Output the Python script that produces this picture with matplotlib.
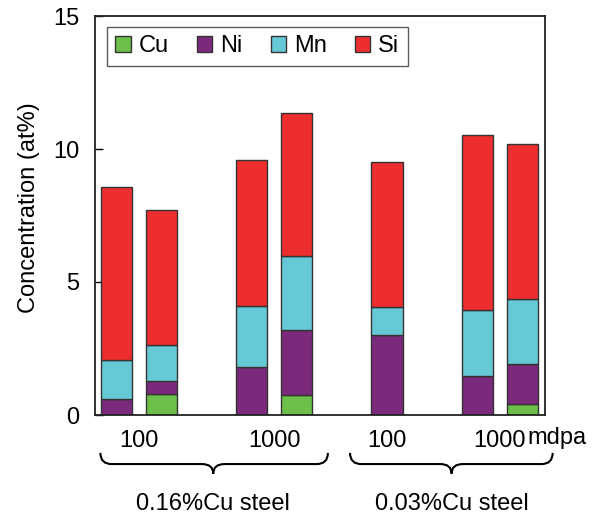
import matplotlib
matplotlib.use("Agg")
import matplotlib.pyplot as plt
from matplotlib.path import Path
from matplotlib.patches import PathPatch, Patch
from matplotlib.transforms import blended_transform_factory
import numpy as np

plt.rcParams['font.family'] = ['Liberation Sans', 'DejaVu Sans']

# --- data (at%), one entry per bar ---
elements = ['Cu', 'Ni', 'Mn', 'Si']
cu = [0.00, 0.80, 0.00, 0.75, 0.00, 0.00, 0.40]
ni = [0.59, 0.49, 1.82, 2.43, 3.00, 1.47, 1.53]
mn = [1.47, 1.34, 2.28, 2.80, 1.05, 2.47, 2.42]
si = [6.52, 5.08, 5.49, 5.36, 5.47, 6.59, 5.83]
dose_labels = ['100', '1000', '100', '1000']
group_labels = ['0.16%Cu steel', '0.03%Cu steel']

colors = ['#6cc04a', '#7b2a7b', '#66cad6', '#ee2e2e']

# layout
slots = np.array([0, 1, 3, 4, 6, 8, 9])
dose_pos = [0.5, 3.5, 6, 8.5]
brace_spans = [(-0.35, 4.69, 2.15), (5.18, 9.67, 7.43)]
fs = 17

fig = plt.figure(figsize=(5.99, 5.15), dpi=100)
ax = fig.add_axes([95 / 599, 100 / 515, 450 / 599, 399 / 515])

bottom = np.zeros(len(slots))
for name, vals, col in zip(elements, [cu, ni, mn, si], colors):
    vals = np.array(vals)
    m = vals > 0
    ax.bar(slots[m], vals[m], width=0.69, bottom=bottom[m], color=col,
           edgecolor='#333333', linewidth=1.0, zorder=2)
    bottom += vals

ax.set_xlim(-0.47, 9.5)
ax.set_ylim(0, 15)
ax.set_yticks([0, 5, 10, 15])
ax.tick_params(axis='y', direction='in', length=6, width=1, pad=11, labelsize=fs)
ax.set_xticks(dose_pos)
ax.set_xticklabels(dose_labels)
ax.tick_params(axis='x', length=0, pad=11, labelsize=fs)
for sp in ax.spines.values():
    sp.set_linewidth(1.3)
    sp.set_color('#222222')

ax.set_ylabel('Concentration (at%)', fontsize=fs)
ax.yaxis.set_label_coords(-0.123, 0.52)

trans = blended_transform_factory(ax.transData, ax.transAxes)
ax.text(9.12, -0.058, 'mdpa', transform=trans, fontsize=fs, ha='left', va='center')

# braces under the groups
y_top, y_mid, y_tip = -0.095, -0.123, -0.147
r = 0.25
for (x0, x1, xm), lab in zip(brace_spans, group_labels):
    verts = [(x0, y_top), (x0, y_mid), (x0 + r, y_mid),
             (xm - r, y_mid), (xm, y_mid), (xm, y_tip),
             (xm, y_mid), (xm + r, y_mid),
             (x1 - r, y_mid), (x1, y_mid), (x1, y_top)]
    codes = [Path.MOVETO, Path.CURVE3, Path.CURVE3,
             Path.LINETO, Path.CURVE3, Path.CURVE3,
             Path.CURVE3, Path.CURVE3,
             Path.LINETO, Path.CURVE3, Path.CURVE3]
    ax.add_patch(PathPatch(Path(verts, codes), transform=trans, fill=False,
                           edgecolor='black', linewidth=1.5, clip_on=False))
    ax.text(xm, -0.222, lab, transform=trans, fontsize=fs, ha='center', va='center')

handles = [Patch(facecolor=c, edgecolor='#333333', linewidth=1.0) for c in colors]
leg = ax.legend(handles, elements, loc='upper left', bbox_to_anchor=(0.027, 0.972),
                borderaxespad=0, ncol=4, fontsize=fs, frameon=True, fancybox=False,
                handlelength=0.64, handleheight=0.64, handletextpad=0.34,
                columnspacing=1.2, borderpad=0.35)
leg.get_frame().set_edgecolor('#333333')
leg.get_frame().set_linewidth(1.0)

fig.savefig('out.png', dpi=100)
